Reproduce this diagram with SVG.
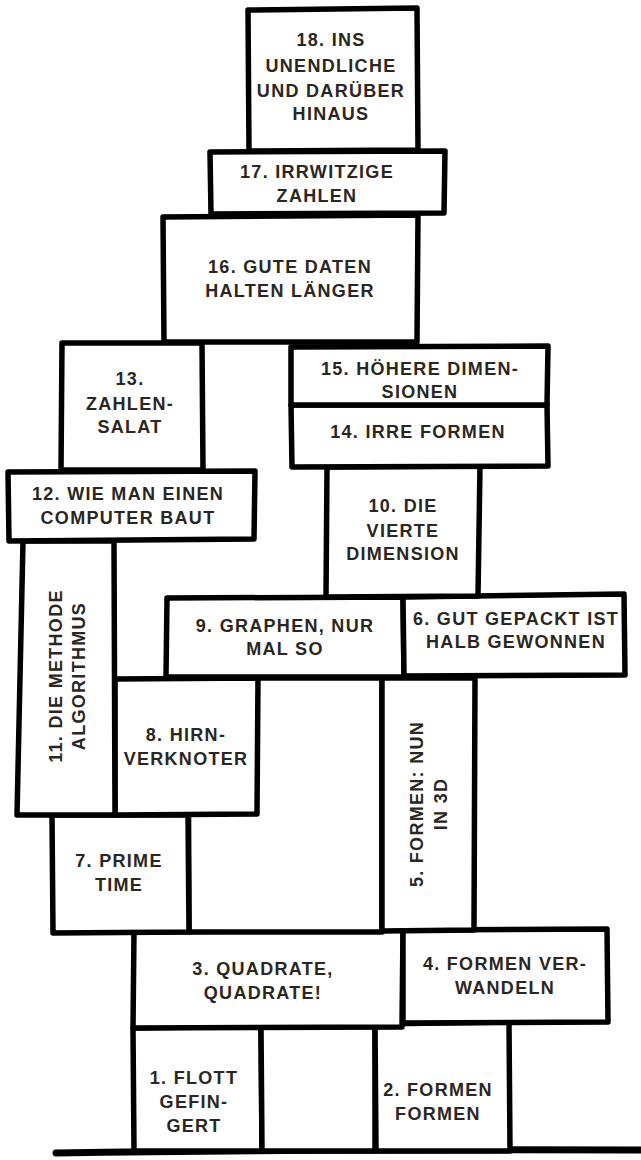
<svg xmlns="http://www.w3.org/2000/svg" width="641" height="1160" viewBox="0 0 641 1160">
<style>
.b{fill:#fff;stroke:#000;stroke-width:5.5;stroke-linejoin:round;stroke-linecap:round}
.t{font-family:"Liberation Sans",Arial,sans-serif;font-weight:bold;font-size:18px;letter-spacing:1.3px;fill:#2b2622;text-anchor:middle}
</style>
<rect width="641" height="1160" fill="#fff"/>
<g id="ground"><path d="M56 1153 Q300 1149 641 1150" fill="none" stroke="#000" stroke-width="7" stroke-linecap="round"/></g>
<g id="n1"><path class="b" d="M133 1028 L261 1026 L262 1151 L134 1151 Z"/><text class="t" x="194" y="1084">1. FLOTT</text><text class="t" x="194" y="1108">GEFIN-</text><text class="t" x="194" y="1132">GERT</text></g>
<g id="blank-bottom"><path class="b" d="M261 1026 L375 1024 L375 1151 L262 1151 Z"/></g>
<g id="n2"><path class="b" d="M375 1024 L509 1022 L510 1151 L376 1151 Z"/><text class="t" x="438" y="1096">2. FORMEN</text><text class="t" x="438" y="1120">FORMEN</text></g>
<g id="n3"><path class="b" d="M134 932 L403 930 L402 1027 L133 1028 Z"/><text class="t" x="263" y="975">3. QUADRATE,</text><text class="t" x="263" y="999">QUADRATE!</text></g>
<g id="n4"><path class="b" d="M403 930 L607 929 L608 1022 L403 1023 Z"/><text class="t" x="505" y="970">4. FORMEN VER-</text><text class="t" x="505" y="994">WANDELN</text></g>
<g id="blank-middle"><path class="b" d="M188 678 L382 678 L382 932 L189 932 Z"/></g>
<g id="n5"><path class="b" d="M382 678 L475 678 L474 930 L382 931 Z"/><g transform="translate(0 804) rotate(-90)"><text class="t" x="0" y="423">5. FORMEN: NUN</text><text class="t" x="0" y="447">IN 3D</text></g></g>
<g id="n7"><path class="b" d="M52 815 L188 815 L189 932 L53 933 Z"/><text class="t" x="119" y="867">7. PRIME</text><text class="t" x="119" y="891">TIME</text></g>
<g id="n8"><path class="b" d="M115 679 L258 678 L257 814 L115 815 Z"/><text class="t" x="186" y="741">8. HIRN-</text><text class="t" x="186" y="765">VERKNOTER</text></g>
<g id="n11"><path class="b" d="M23 541 L114 541 L115 815 L17 815 Z"/><g transform="translate(0 676) rotate(-90)"><text class="t" x="0" y="62">11. DIE METHODE</text><text class="t" x="0" y="85">ALGORITHMUS</text></g></g>
<g id="n9"><path class="b" d="M167 598 L403 597 L404 677 L166 677 Z"/><text class="t" x="285" y="632">9. GRAPHEN, NUR</text><text class="t" x="285" y="655">MAL SO</text></g>
<g id="n6"><path class="b" d="M403 597 L624 594 L625 675 L404 676 Z"/><text class="t" x="516" y="625">6. GUT GEPACKT IST</text><text class="t" x="516" y="648">HALB GEWONNEN</text></g>
<g id="n10"><path class="b" d="M327 467 L480 466 L478 596 L326 597 Z"/><text class="t" x="403" y="512">10. DIE</text><text class="t" x="403" y="537">VIERTE</text><text class="t" x="403" y="560">DIMENSION</text></g>
<g id="n12"><path class="b" d="M8 472 L255 471 L254 539 L9 541 Z"/><text class="t" x="128" y="500">12. WIE MAN EINEN</text><text class="t" x="128" y="524">COMPUTER BAUT</text></g>
<g id="n13"><path class="b" d="M62 343 L202 343 L203 470 L61 470 Z"/><text class="t" x="130" y="385">13.</text><text class="t" x="130" y="410">ZAHLEN-</text><text class="t" x="130" y="433">SALAT</text></g>
<g id="n14"><path class="b" d="M291 405 L547 405 L548 466 L292 467 Z"/><text class="t" x="418" y="438">14. IRRE FORMEN</text></g>
<g id="n15"><path class="b" d="M291 347 L548 346 L547 405 L291 405 Z"/><text class="t" x="420" y="375">15. HÖHERE DIMEN-</text><text class="t" x="420" y="398">SIONEN</text></g>
<g id="n16"><path class="b" d="M163 217 L418 215 L417 342 L164 342 Z"/><text class="t" x="290" y="273">16. GUTE DATEN</text><text class="t" x="290" y="297">HALTEN LÄNGER</text></g>
<g id="n17"><path class="b" d="M210 152 L445 151 L444 213 L211 214 Z"/><text class="t" x="317" y="178">17. IRRWITZIGE</text><text class="t" x="317" y="202">ZAHLEN</text></g>
<g id="n18"><path class="b" d="M248 10 L417 8 L418 150 L249 151 Z"/><text class="t" x="331" y="46">18. INS</text><text class="t" x="331" y="72">UNENDLICHE</text><text class="t" x="331" y="97">UND DARÜBER</text><text class="t" x="331" y="120">HINAUS</text></g>
<g id="connectors"/>
</svg>
